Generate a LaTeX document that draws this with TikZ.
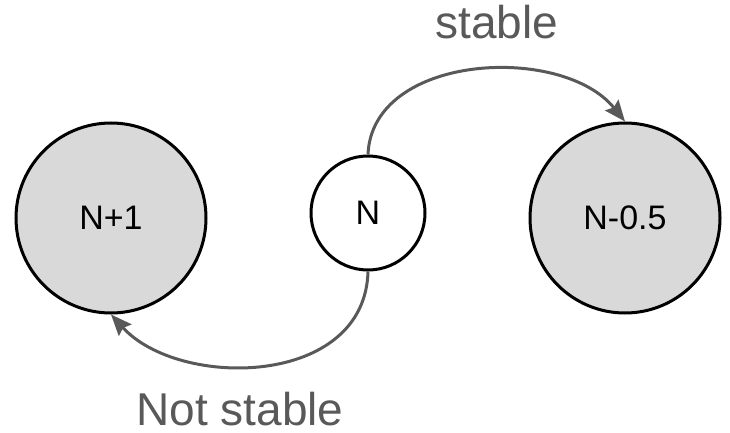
\documentclass[tikz,border=0pt]{standalone}
\usepackage{fontspec}
\setmainfont{Liberation Sans}
\usetikzlibrary{arrows.meta}
\definecolor{statefill}{HTML}{D9D9D9}
\definecolor{edgegray}{HTML}{595959}
\begin{document}
\begin{tikzpicture}[x=1pt,y=-1pt,
  state/.style={circle, draw=black, line width=3pt, inner sep=0pt,
    font=\fontsize{34}{40}\selectfont},
  bigstate/.style={state, fill=statefill, minimum size=190pt},
  smallstate/.style={state, fill=white, minimum size=114pt},
  edge/.style={draw=edgegray, line width=3pt,
    -{Stealth[length=21pt,width=17pt,inset=3pt]}},
  edgelabel/.style={text=edgegray, anchor=base, inner sep=0pt,
    font=\fontsize{46}{55}\selectfont}]
\useasboundingbox (0,0) rectangle (730,433);

\node[bigstate] (plus) at (111,218) {N+1};
\node[smallstate] (mid) at (368,213) {N};
\node[bigstate] (minus) at (625,218) {N-0.5};

\draw[edge] (mid.north) .. controls +(4,-101) and +(-63,-78) .. (minus.north);
\draw[edge] (mid.south) .. controls +(-3,116) and +(68,75) .. (plus.south);

\node[edgelabel] (lstable) at (497,39) {stable};
\node[edgelabel] (lnot) at (240,425) {Not stable};
\end{tikzpicture}
\end{document}
